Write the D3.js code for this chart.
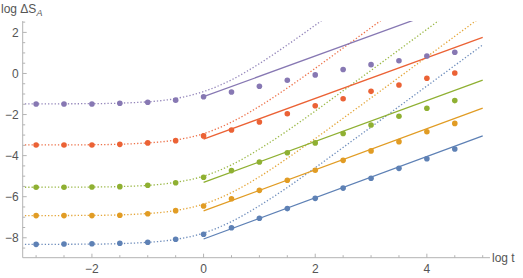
<!DOCTYPE html>
<html>
<head>
<meta charset="utf-8">
<script src="https://cdn.jsdelivr.net/npm/d3@7"></script>
<style>
  body { margin:0; background:#fff; }
  text { font-family:"Liberation Sans", Arial, sans-serif; }
</style>
</head>
<body>
<div id="chart"></div>
<script>
// sample times (log t) of the dots
var t_points = [-3, -2.5, -2, -1.5, -1, -0.5, 0, 0.5, 1, 1.5, 2, 2.5, 3, 3.5, 4, 4.5];
var blue_points   = [-8.32, -8.30, -8.29, -8.27, -8.22, -8.07, -7.83, -7.51, -7.05, -6.58, -6.08, -5.58, -5.10, -4.62, -4.15, -3.68];
var orange_points = [-6.92, -6.92, -6.92, -6.90, -6.83, -6.68, -6.45, -6.10, -5.69, -5.20, -4.71, -4.23, -3.77, -3.32, -2.84, -2.43];
var green_points  = [-5.54, -5.54, -5.53, -5.51, -5.44, -5.32, -5.05, -4.73, -4.31, -3.86, -3.38, -2.92, -2.51, -2.08, -1.69, -1.32];
var red_points    = [-3.48, -3.48, -3.48, -3.45, -3.38, -3.27, -3.04, -2.75, -2.36, -1.96, -1.57, -1.23, -0.87, -0.56, -0.23, 0.02];
var purple_points = [-1.485, -1.485, -1.485, -1.45, -1.40, -1.30, -1.13, -0.90, -0.62, -0.33, -0.07, 0.19, 0.43, 0.62, 0.85, 1.03];

// dotted curves
var t_curve = [-3.2, -2, -1, -0.5, 0, 0.5, 1, 1.5, 2, 2.5, 3, 3.5, 4, 4.5, 5];
var blue_curve   = [-8.32, -8.31, -8.22, -8.08, -7.77, -7.21, -6.44, -5.55, -4.59, -3.60, -2.61, -1.61, -0.61, 0.39, 1.39];
var orange_curve = [-6.92, -6.91, -6.82, -6.67, -6.36, -5.80, -5.03, -4.13, -3.17, -2.18, -1.19, -0.19, 0.81, 1.81, 2.81];
var green_curve  = [-5.54, -5.53, -5.45, -5.30, -5.00, -4.45, -3.68, -2.79, -1.83, -0.84, 0.15, 1.15, 2.15, 3.15, 4.15];
var red_curve    = [-3.48, -3.47, -3.38, -3.24, -2.93, -2.37, -1.60, -0.71, 0.25, 1.24, 2.23, 3.23, 4.23, 5.23, 6.23];
var purple_curve = [-1.48, -1.47, -1.38, -1.22, -0.88, -0.31, 0.48, 1.39, 2.35, 3.34, 4.33, 5.33, 6.33, 7.33, 8.33];

// straight fits, from log t = 0 to 5
var t_fit = [0, 5];
var blue_fit   = [-8.06, -3.04];
var orange_fit = [-6.69, -1.69];
var green_fit  = [-5.30, -0.32];
var red_fit    = [-3.20, 1.76];
var purple_fit = [-1.13, 3.82];

var series_colors = ["#5E81B5", "#E19C24", "#8FB032", "#EB6235", "#8778B3"];
var series_points = [blue_points, orange_points, green_points, red_points, purple_points];
var series_curves = [blue_curve, orange_curve, green_curve, red_curve, purple_curve];
var series_fits   = [blue_fit, orange_fit, green_fit, red_fit, purple_fit];

var x_major = [-2, 0, 2, 4];
var y_major = [-8, -6, -4, -2, 0, 2];

var width = 523, height = 278;
var x = d3.scaleLinear().domain([-3.24, 5.0]).range([22.7, 482.7]);
var y = d3.scaleLinear().domain([-8.97, 2.55]).range([257.7, 21.1]);

var svg = d3.select("#chart").append("svg")
  .attr("width", width)
  .attr("height", height);

svg.append("clipPath").attr("id", "plot_clip")
  .append("rect")
  .attr("x", x(-3.24)).attr("y", y(2.55))
  .attr("width", width - x(-3.24)).attr("height", y(-8.97) - y(2.55));

var axis_color = "#b3b3b3";
var label_color = "#555";

// x axis
var x_axis = svg.append("g");
x_axis.append("line")
  .attr("x1", x(-3.24)).attr("x2", x(5.13))
  .attr("y1", y(-8.97)).attr("y2", y(-8.97))
  .style("stroke", axis_color);
for (var i = -6; i <= 10; i ++) {
  var tv = i/2;
  var is_major = x_major.indexOf(tv) >= 0;
  x_axis.append("line")
    .attr("x1", x(tv)).attr("x2", x(tv))
    .attr("y1", y(-8.97)).attr("y2", y(-8.97) - (is_major ? 4 : 2.5))
    .style("stroke", axis_color);
}
x_axis.selectAll("text.xtick").data(x_major).enter().append("text")
  .attr("class", "xtick")
  .attr("x", function (d) { return x(d); })
  .attr("y", y(-8.97) + 15)
  .attr("text-anchor", "middle")
  .style("font-size", "12px")
  .style("fill", label_color)
  .text(function (d) { return d < 0 ? "\u2212" + (-d) : d; });
x_axis.append("text")
  .attr("x", 492).attr("y", y(-8.97) + 4)
  .style("font-size", "12px")
  .style("fill", label_color)
  .text("log t");

// y axis
var y_axis = svg.append("g");
y_axis.append("line")
  .attr("x1", x(-3.24)).attr("x2", x(-3.24))
  .attr("y1", y(-8.97)).attr("y2", y(2.55))
  .style("stroke", axis_color);
for (var j = -17; j <= 5; j ++) {
  var yv = j/2;
  var y_is_major = y_major.indexOf(yv) >= 0;
  y_axis.append("line")
    .attr("x1", x(-3.24)).attr("x2", x(-3.24) + (y_is_major ? 4 : 2.5))
    .attr("y1", y(yv)).attr("y2", y(yv))
    .style("stroke", axis_color);
}
y_axis.selectAll("text.ytick").data(y_major).enter().append("text")
  .attr("class", "ytick")
  .attr("x", x(-3.24) - 4)
  .attr("y", function (d) { return y(d) + 4.5; })
  .attr("text-anchor", "end")
  .style("font-size", "12px")
  .style("fill", label_color)
  .text(function (d) { return d < 0 ? "\u2212" + (-d) : d; });
var y_title = y_axis.append("text")
  .attr("x", 1).attr("y", 13)
  .style("font-size", "12px")
  .style("fill", label_color);
y_title.append("tspan").text("log \u0394S");
y_title.append("tspan").attr("dy", 3).style("font-size", "9px").style("font-style", "italic").text("A");

var plot = svg.append("g").attr("clip-path", "url(#plot_clip)");

var curve_line = d3.line()
  .x(function (d) { return x(d[0]); })
  .y(function (d) { return y(d[1]); })
  .curve(d3.curveMonotoneX);

// dotted curves
series_curves.forEach(function (vals, k) {
  plot.append("path")
    .datum(t_curve.map(function (t, n) { return [t, vals[n]]; }))
    .attr("d", curve_line)
    .style("fill", "none")
    .style("stroke", series_colors[k])
    .style("stroke-width", 1.3)
    .style("stroke-dasharray", "1.3,2")
    .style("opacity", 0.9);
});

// straight fits
series_fits.forEach(function (vals, k) {
  plot.append("path")
    .datum(t_fit.map(function (t, n) { return [t, vals[n]]; }))
    .attr("d", d3.line().x(function (d) { return x(d[0]); }).y(function (d) { return y(d[1]); }))
    .style("fill", "none")
    .style("stroke", series_colors[k])
    .style("stroke-width", 1.3);
});

// dots
series_points.forEach(function (vals, k) {
  plot.selectAll(null)
    .data(t_points.map(function (t, n) { return [t, vals[n]]; }))
    .enter().append("circle")
    .attr("cx", function (d) { return x(d[0]); })
    .attr("cy", function (d) { return y(d[1]); })
    .attr("r", 2.8)
    .style("fill", series_colors[k]);
});
</script>
</body>
</html>
